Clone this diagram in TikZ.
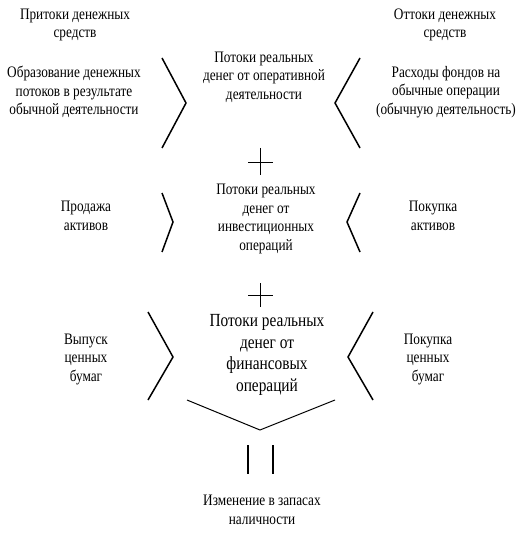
\documentclass[tikz,border=0pt]{standalone}
\usepackage{fontspec}
\setmainfont{Liberation Serif}[FakeStretch=0.83]

\tikzstyle{txt} = [align=center, inner sep=0pt, font=\fontsize{16}{18.5}\selectfont]
\tikzstyle{bigtxt} = [align=center, inner sep=0pt, font=\fontsize{18.5}{21.7}\selectfont]
\tikzstyle{chev} = [line width=1.5pt]
\tikzstyle{sign} = [line width=1pt]

\begin{document}
\begin{tikzpicture}[x=1pt, y=-1pt]
\useasboundingbox (0,0) rectangle (521,534);
%kop
\node[txt] (inhead) at (75,25) {Притоки денежных\\средств};
\node[txt] (outhead) at (445,25) {Оттоки денежных\\средств};
%begin level1-oper
\node[txt] (operin) at (74,92) {Образование денежных\\потоков в результате\\обычной деятельности};
\node[txt] (oper) at (264,77) {Потоки реальных\\денег от оперативной\\деятельности};
\node[txt] (operout) at (446,92) {Расходы фондов на\\обычные операции\\(обычную деятельность)};
\draw[chev] (162,58) -- (186,103) -- (162,148);
\draw[chev] (360,58) -- (335,103) -- (360,148);
%end level1-oper
\draw[sign] (248,163) -- (273,163) (260,148) -- (260,175);
%begin level2-inv
\node[txt] (invin) at (86,216) {Продажа\\активов};
\node[txt] (inv) at (266,219) {Потоки реальных\\денег от\\инвестиционных\\операций};
\node[txt] (invout) at (433,216) {Покупка\\активов};
\draw[chev] (162,193) -- (173,222) -- (162,252);
\draw[chev] (360,193) -- (347,222) -- (360,252);
%end level2-inv
\draw[sign] (248,295) -- (273,295) (260,283) -- (260,307);
%begin level3-fin
\node[txt] (finin) at (86,359) {Выпуск\\ценных\\бумаг};
\node[bigtxt] (fin) at (267,355) {Потоки реальных\\денег от\\финансовых\\операций};
\node[txt] (finout) at (428,359) {Покупка\\ценных\\бумаг};
\draw[chev] (148,312) -- (173,357) -- (148,400);
\draw[chev] (373,312) -- (348,357) -- (373,400);
%end level3-fin
%uitkomst
\draw[line width=1pt] (187,400) -- (260,430) -- (335,400);
\draw[line width=2pt] (248,445) -- (248,474) (273,445) -- (273,474);
\node[txt] (result) at (262,510) {Изменение в запасах\\наличности};
\end{tikzpicture}
\end{document}
